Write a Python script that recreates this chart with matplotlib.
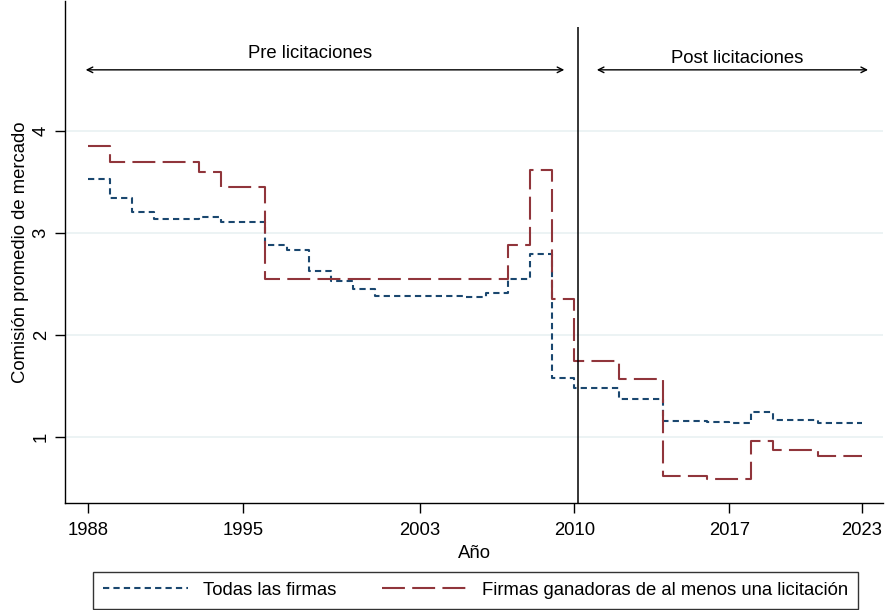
import numpy as np
import matplotlib
matplotlib.use('Agg')
import matplotlib.pyplot as plt

plt.rcParams['font.family'] = ['Liberation Sans', 'DejaVu Sans']

#%% data

years = np.arange(1988, 2024)

todas = [3.53, 3.34, 3.21, 3.14, 3.14, 3.16, 3.11, 3.11,
         2.88, 2.83, 2.63, 2.53, 2.45, 2.38, 2.38, 2.38, 2.38, 2.37, 2.41,
         2.55, 2.79, 1.58,
         1.48, 1.48, 1.37, 1.37, 1.16, 1.16, 1.15, 1.14,
         1.25, 1.17, 1.17, 1.14, 1.14, 1.14]

ganadoras = [3.85, 3.70, 3.70, 3.70, 3.70, 3.60, 3.45, 3.45,
             2.55, 2.55, 2.55, 2.55, 2.55, 2.55, 2.55, 2.55, 2.55, 2.55, 2.55,
             2.88, 3.62, 2.35,
             1.75, 1.75, 1.57, 1.57, 0.62, 0.62, 0.59, 0.59,
             0.96, 0.87, 0.87, 0.81, 0.81, 0.81]

xticks = [1988, 1995, 2003, 2010, 2017, 2023]
yticks = [1, 2, 3, 4]
corte = 2010.15

navy = '#1a476f'
maroon = '#90353b'

#%% plot

fig = plt.figure(figsize=(8.86, 6.10), dpi=100)
ax = fig.add_axes([65/886, 1-503/610, (883-65)/886, 502/610])

ax.plot(years, todas, drawstyle='steps-post', color=navy, lw=1.5,
        dashes=(3.0, 2.0), label='Todas las firmas')
ax.plot(years, ganadoras, drawstyle='steps-post', color=maroon, lw=1.5,
        dashes=(11, 3.5), label='Firmas ganadoras de al menos una licitación')

ax.set_xlim(1986.96, 2023.96)
ax.set_ylim(0.353, 5.275)
ax.set_xticks(xticks)
ax.set_yticks(yticks)
ax.tick_params(axis='x', labelsize=13.3, length=7, width=1, pad=7, direction='out')
ax.tick_params(axis='y', labelsize=13.3, length=7, width=1, pad=4, direction='out')
plt.setp(ax.get_yticklabels(), rotation=90, va='center')
ax.grid(axis='y', color='#eaf2f3', lw=1.3)
ax.set_axisbelow(True)
for s in ['top', 'right']:
    ax.spines[s].set_visible(False)
for s in ['left', 'bottom']:
    ax.spines[s].set_linewidth(1.0)

ax.set_xlabel('Año', fontsize=13.3, labelpad=4)
ax.set_ylabel('Comisión promedio de mercado', fontsize=13.3)
ax.yaxis.set_label_coords(-0.0435, 0.5)

# division line and period arrows
ax.vlines(corte, 0.353, 5.02, color='black', lw=1.1)
ax.annotate('', xy=(2009.67, 4.60), xytext=(1987.77, 4.60),
            arrowprops=dict(arrowstyle='<->', lw=1.0, color='black'))
ax.annotate('', xy=(2023.41, 4.60), xytext=(2010.89, 4.60),
            arrowprops=dict(arrowstyle='<->', lw=1.0, color='black'))
ax.text(1998.04, 4.765, 'Pre licitaciones', ha='center', va='center', fontsize=13.3)
ax.text(2017.35, 4.716, 'Post licitaciones', ha='center', va='center', fontsize=13.3)

leg = fig.legend(loc='lower left', ncol=2, mode='expand',
                 bbox_to_anchor=(93/886, 1-609/610, (858-93)/886, (609-567)/610),
                 fontsize=13.3, handlelength=4.6, handletextpad=0.8,
                 frameon=True, fancybox=False, borderaxespad=0, borderpad=0.55)
leg.get_frame().set_edgecolor('black')
leg.get_frame().set_linewidth(1.0)

fig.savefig('out.png', dpi=100)
